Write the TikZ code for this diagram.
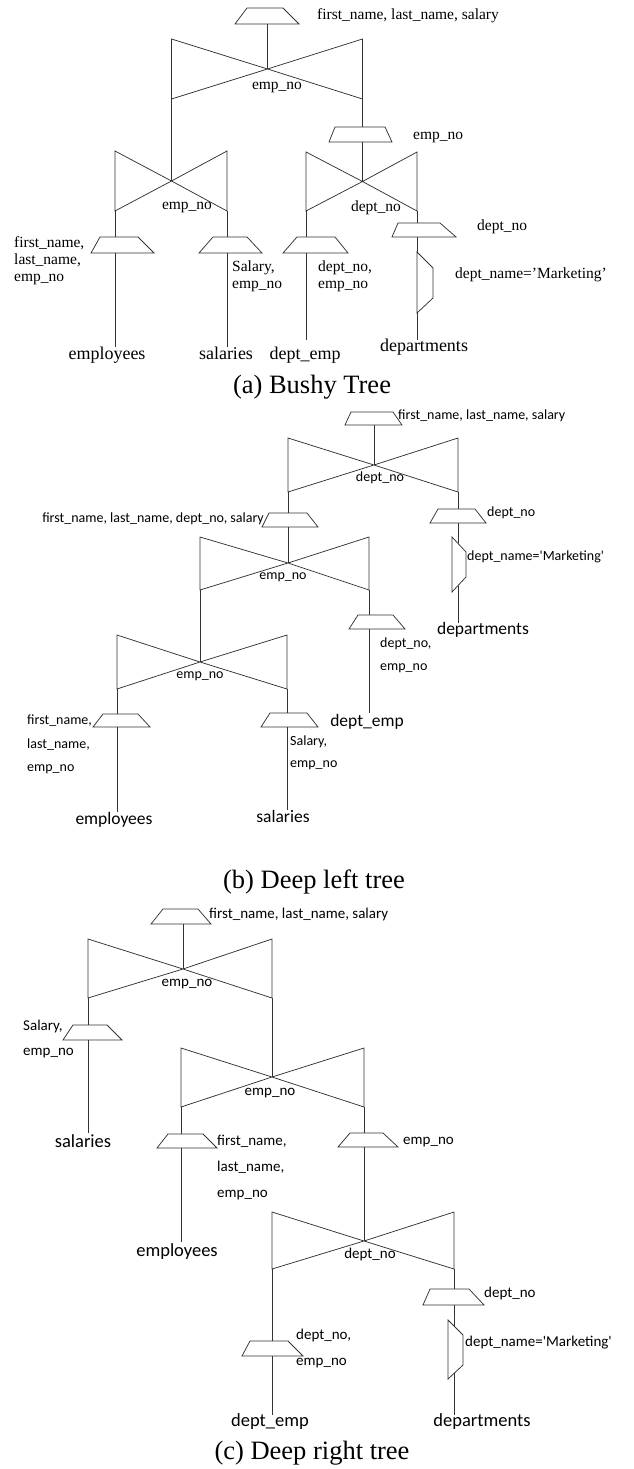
\documentclass[tikz,border=0pt]{standalone}
\usepackage{fontspec}
\setmainfont{Liberation Serif}
\newfontfamily\sansbody{Carlito}
% projection operator: top-left x, top-right x, bottom-left x, bottom-right x, top y, bottom y
\newcommand{\projshape}[6]{\draw[op] (#1,#5) -- (#2,#5) -- (#4,#6) -- (#3,#6) -- cycle;}
% join operator (bow tie): left x, right x, top y, bottom y, centre x, centre y
\newcommand{\joinshape}[6]{\draw[op] (#1,#3) -- (#5,#6) -- (#2,#4) -- (#2,#3) -- (#5,#6) -- (#1,#4) -- cycle;}
\begin{document}
\begin{tikzpicture}[x=1pt,y=-1pt,
  op/.style={draw=black!80, line width=0.75pt, line join=miter},
  wire/.style={draw=black!80, line width=0.75pt},
  lbla/.style={font=\fontsize{15.5}{18}\selectfont, inner sep=0pt, text height=10.5pt, text depth=3.5pt, anchor=west},
  joina/.style={lbla, anchor=center},
  rela/.style={font=\fontsize{18}{21}\selectfont, inner sep=0pt, text height=12pt, text depth=4pt},
  lblb/.style={font=\sansbody\fontsize{14}{17}\selectfont, inner sep=0pt, text height=9.5pt, text depth=3pt, anchor=west},
  joinb/.style={lblb, anchor=center},
  relb/.style={font=\sansbody\fontsize{17.5}{21}\selectfont, inner sep=0pt, text height=12pt, text depth=4pt},
  lblc/.style={font=\sansbody\fontsize{15}{18}\selectfont, inner sep=0pt, text height=10pt, text depth=3pt, anchor=west},
  joinc/.style={lblc, anchor=center},
  relc/.style={font=\sansbody\fontsize{18.5}{22}\selectfont, inner sep=0pt, text height=12.5pt, text depth=4pt},
  capt/.style={font=\fontsize{26.5}{30}\selectfont, inner sep=0pt, text height=18pt, text depth=6pt}]
\useasboundingbox (0,0) rectangle (634,1469);

% ================= (a) Bushy tree =================
\projshape{247}{283}{235}{299}{8}{24}
\coordinate (a-p0) at (267.5,24);
\node[lbla] (a-out) at (317,16) {first\_name, last\_name, salary};
\joinshape{171.5}{362.5}{39}{99}{267.5}{69}
\coordinate (a-j1) at (267.5,69);
\coordinate (a-j1l) at (171.5,99);
\coordinate (a-j1r) at (362.5,99);
\draw[wire] (a-p0) -- (a-j1);
\node[joina] (a-k1) at (277,86) {emp\_no};

% left join: employees with salaries
\joinshape{115}{227}{151}{211}{171.5}{181}
\coordinate (a-j2) at (171.5,181);
\coordinate (a-j2l) at (115,211);
\coordinate (a-j2r) at (227,211);
\draw[wire] (a-j1l) -- (a-j2);
\node[joina] (a-k2) at (187,206) {emp\_no};

\projshape{100}{138}{91}{154}{237}{253}
\coordinate (a-p1t) at (115,237);
\coordinate (a-p1b) at (115,253);
\coordinate (a-e1) at (115,347);
\draw[wire] (a-j2l) -- (a-p1t);
\draw[wire] (a-p1b) -- (a-e1);
\node[rela] (a-emp) at (107,355) {employees};
\node[lbla] (a-l1a) at (14,244) {first\_name,};
\node[lbla] (a-l1b) at (14,261) {last\_name,};
\node[lbla] (a-l1c) at (14,278) {emp\_no};

\projshape{213}{247}{199}{262}{237}{253}
\coordinate (a-p2t) at (227,237);
\coordinate (a-p2b) at (227,253);
\coordinate (a-e2) at (227,347);
\draw[wire] (a-j2r) -- (a-p2t);
\draw[wire] (a-p2b) -- (a-e2);
\node[rela] (a-sal) at (226,355) {salaries};
\node[lbla] (a-l2a) at (232,268) {Salary,};
\node[lbla] (a-l2b) at (232,285) {emp\_no};

% right branch: projection over dept_emp join departments
\projshape{335}{385}{329}{392}{127}{142}
\coordinate (a-p3t) at (362.5,127);
\coordinate (a-p3b) at (362.5,142);
\node[lbla] (a-k3p) at (413,136) {emp\_no};
\joinshape{306}{417}{152}{211}{362.5}{181.5}
\coordinate (a-j3) at (362.5,181.5);
\coordinate (a-j3l) at (306,211);
\coordinate (a-j3r) at (417,211);
\draw[wire] (a-j1r) -- (a-p3t);
\draw[wire] (a-p3b) -- (a-j3);
\node[joina] (a-k3) at (376,208) {dept\_no};

\projshape{297}{335}{283}{348}{237}{253}
\coordinate (a-p4t) at (306,237);
\coordinate (a-p4b) at (306,253);
\coordinate (a-e4) at (306,340);
\draw[wire] (a-j3l) -- (a-p4t);
\draw[wire] (a-p4b) -- (a-e4);
\node[rela] (a-de) at (305,355) {dept\_emp};
\node[lbla] (a-l4a) at (318,268) {dept\_no,};
\node[lbla] (a-l4b) at (318,285) {emp\_no};

\projshape{398}{440}{392}{456}{223}{237}
\coordinate (a-p5t) at (417,223);
\coordinate (a-p5b) at (417,237);
\coordinate (a-s5t) at (417,252);
\coordinate (a-s5b) at (417,313);
\coordinate (a-e5) at (417,340);
\draw[op] (a-s5t) -- (433,268) -- (433,298) -- (a-s5b) -- cycle;
\draw[wire] (a-j3r) -- (a-p5t);
\draw[wire] (a-p5b) -- (a-s5t);
\draw[wire] (a-s5b) -- (a-e5);
\node[rela] (a-dep) at (424,347) {departments};
\node[lbla] (a-k5p) at (477,227) {dept\_no};
\node[lbla] (a-sel) at (455,275) {dept\_name='Marketing'};

\node[capt] (a-cap) at (312,387) {(a) Bushy Tree};

% ================= (b) Deep left tree =================
\projshape{351}{393}{345}{402}{412}{425}
\coordinate (b-p0) at (374,425);
\node[lblb] (b-out) at (398,416) {first\_name, last\_name, salary};
\joinshape{288}{458}{438}{492}{374}{465}
\coordinate (b-j1) at (374,465);
\coordinate (b-j1l) at (288,492);
\coordinate (b-j1r) at (458,492);
\draw[wire] (b-p0) -- (b-j1);
\node[joinb] (b-k1) at (380,478) {dept\_no};

\projshape{269}{307}{262}{318}{513}{527}
\coordinate (b-p1t) at (288,513);
\coordinate (b-p1b) at (288,527);
\node[lblb, anchor=east] (b-l1) at (264,519) {first\_name, last\_name, dept\_no, salary};
\joinshape{200}{369}{537}{590}{288}{563}
\coordinate (b-j2) at (288,563);
\coordinate (b-j2l) at (200,590);
\coordinate (b-j2r) at (369,590);
\draw[wire] (b-j1l) -- (b-p1t);
\draw[wire] (b-p1b) -- (b-j2);
\node[joinb] (b-k2) at (283,576) {emp\_no};

% dept_emp leaf
\projshape{358}{393}{349}{405}{615}{629}
\coordinate (b-p2t) at (369,615);
\coordinate (b-p2b) at (369,629);
\coordinate (b-e2) at (369,713);
\draw[wire] (b-j2r) -- (b-p2t);
\draw[wire] (b-p2b) -- (b-e2);
\node[relb] (b-de) at (367,722) {dept\_emp};
\node[lblb] (b-l2a) at (380,644) {dept\_no,};
\node[lblb] (b-l2b) at (380,667) {emp\_no};

% departments leaf
\projshape{438}{475}{430}{486}{509}{523}
\coordinate (b-p3t) at (458,509);
\coordinate (b-p3b) at (458,523);
\coordinate (b-s3t) at (458,543.4);
\coordinate (b-s3b) at (458,585.6);
\coordinate (b-e3) at (458,623);
\draw[op] (452,537) -- (466,552) -- (466,577) -- (452,592) -- cycle;
\draw[wire] (b-j1r) -- (b-p3t);
\draw[wire] (b-p3b) -- (b-s3t);
\draw[wire] (b-s3b) -- (b-e3);
\node[relb] (b-dep) at (483,630) {departments};
\node[lblb] (b-k3p) at (487,513) {dept\_no};
\node[lblb] (b-sel) at (467,557) {dept\_name=\textquotesingle Marketing\textquotesingle};

% bottom join: employees with salaries
\joinshape{117}{287}{635}{689}{200}{662}
\coordinate (b-j3) at (200,662);
\coordinate (b-j3l) at (117,689);
\coordinate (b-j3r) at (287,689);
\draw[wire] (b-j2l) -- (b-j3);
\node[joinb] (b-k3) at (200,675) {emp\_no};

\projshape{103}{138}{93}{150}{714}{727}
\coordinate (b-p4t) at (117,714);
\coordinate (b-p4b) at (117,727);
\coordinate (b-e4) at (117,812);
\draw[wire] (b-j3l) -- (b-p4t);
\draw[wire] (b-p4b) -- (b-e4);
\node[relb] (b-emp) at (114,820) {employees};
\node[lblb] (b-l4a) at (27,721) {first\_name,};
\node[lblb] (b-l4b) at (27,745) {last\_name,};
\node[lblb] (b-l4c) at (27,768) {emp\_no};

\projshape{270}{307}{261}{318}{713}{727}
\coordinate (b-p5t) at (287,713);
\coordinate (b-p5b) at (287,727);
\coordinate (b-e5) at (287,810);
\draw[wire] (b-j3r) -- (b-p5t);
\draw[wire] (b-p5b) -- (b-e5);
\node[relb] (b-sal) at (283,818) {salaries};
\node[lblb] (b-l5a) at (290,742) {Salary,};
\node[lblb] (b-l5b) at (290,764) {emp\_no};

\node[capt] (b-cap) at (314,882) {(b) Deep left tree};

% ================= (c) Deep right tree =================
\projshape{163}{198}{151}{211}{909}{924}
\coordinate (c-p0) at (183,924);
\node[lblc] (c-out) at (209,915) {first\_name, last\_name, salary};
\joinshape{88}{272}{939}{998}{183}{969}
\coordinate (c-j1) at (183,969);
\coordinate (c-j1l) at (88,998);
\coordinate (c-j1r) at (272,998);
\draw[wire] (c-p0) -- (c-j1);
\node[joinc] (c-k1) at (187,983) {emp\_no};

% salaries leaf
\projshape{73}{107}{63}{122}{1025}{1040}
\coordinate (c-p1t) at (88,1025);
\coordinate (c-p1b) at (88,1040);
\coordinate (c-e1) at (88,1133);
\draw[wire] (c-j1l) -- (c-p1t);
\draw[wire] (c-p1b) -- (c-e1);
\node[relc] (c-sal) at (83,1143) {salaries};
\node[lblc] (c-l1a) at (23,1027) {Salary,};
\node[lblc] (c-l1b) at (23,1052) {emp\_no};

% middle join
\joinshape{181}{364}{1048}{1107}{272}{1077}
\coordinate (c-j2) at (272,1077);
\coordinate (c-j2l) at (181,1107);
\coordinate (c-j2r) at (364,1107);
\draw[wire] (c-j1r) -- (c-j2);
\node[joinc] (c-k2) at (270,1092) {emp\_no};

% employees leaf
\projshape{168}{203}{157}{217}{1134}{1148}
\coordinate (c-p2t) at (181,1134);
\coordinate (c-p2b) at (181,1148);
\coordinate (c-e2) at (181,1242);
\draw[wire] (c-j2l) -- (c-p2t);
\draw[wire] (c-p2b) -- (c-e2);
\node[relc] (c-emp) at (177,1252) {employees};
\node[lblc] (c-l2a) at (217,1142) {first\_name,};
\node[lblc] (c-l2b) at (217,1168) {last\_name,};
\node[lblc] (c-l2c) at (217,1194) {emp\_no};

% projection above the bottom join
\projshape{350}{383}{338}{398}{1133}{1147}
\coordinate (c-p3t) at (364,1133);
\coordinate (c-p3b) at (364,1147);
\node[lblc] (c-k3p) at (403,1141) {emp\_no};
\joinshape{272}{454}{1212}{1269}{364}{1241}
\coordinate (c-j3) at (364,1241);
\coordinate (c-j3l) at (272,1269);
\coordinate (c-j3r) at (454,1269);
\draw[wire] (c-j2r) -- (c-p3t);
\draw[wire] (c-p3b) -- (c-j3);
\node[joinc] (c-k3) at (370,1255) {dept\_no};

% dept_emp leaf
\projshape{250}{288}{242}{303}{1341}{1356}
\coordinate (c-p4t) at (272,1341);
\coordinate (c-p4b) at (272,1356);
\coordinate (c-e4) at (272,1415);
\draw[wire] (c-j3l) -- (c-p4t);
\draw[wire] (c-p4b) -- (c-e4);
\node[relc] (c-de) at (270,1422) {dept\_emp};
\node[lblc] (c-l4a) at (296,1336) {dept\_no,};
\node[lblc] (c-l4b) at (296,1362) {emp\_no};

% departments leaf
\projshape{430}{469}{423}{484}{1289}{1305}
\coordinate (c-p5t) at (454,1289);
\coordinate (c-p5b) at (454,1305);
\coordinate (c-s5t) at (454,1326);
\coordinate (c-s5b) at (454,1373.4);
\coordinate (c-e5) at (454,1415);
\draw[op] (448,1320) -- (463,1335) -- (463,1365) -- (448,1379) -- cycle;
\draw[wire] (c-j3r) -- (c-p5t);
\draw[wire] (c-p5b) -- (c-s5t);
\draw[wire] (c-s5b) -- (c-e5);
\node[relc] (c-dep) at (482,1422) {departments};
\node[lblc] (c-k5p) at (484,1294) {dept\_no};
\node[lblc] (c-sel) at (465,1343) {dept\_name=\textquotesingle Marketing\textquotesingle};

\node[capt] (c-cap) at (312,1453) {(c) Deep right tree};
\end{tikzpicture}
\end{document}
